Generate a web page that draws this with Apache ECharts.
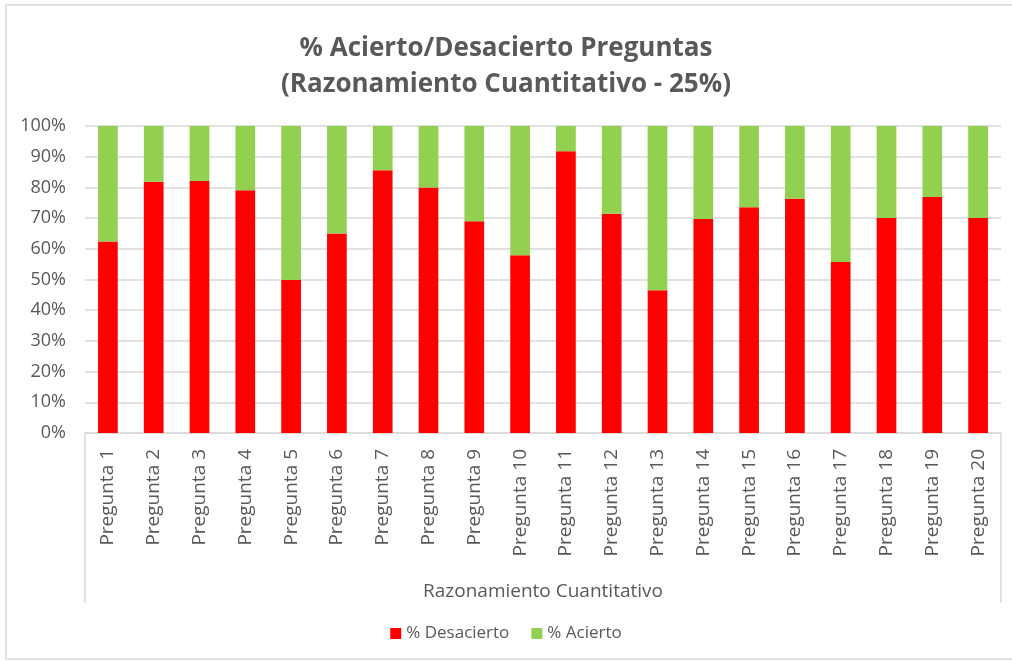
<!DOCTYPE html>
<html>
<head>
<meta charset="utf-8">
<script src="https://cdn.jsdelivr.net/npm/echarts@6/dist/echarts.min.js"></script>
<style>
  html, body { margin: 0; padding: 0; background: #fff; }
  #chart { width: 1012px; height: 661px; }
</style>
</head>
<body>
<div id="chart"></div>
<script>
// categorías y valores
const preguntas = ['Pregunta 1', 'Pregunta 2', 'Pregunta 3', 'Pregunta 4', 'Pregunta 5',
  'Pregunta 6', 'Pregunta 7', 'Pregunta 8', 'Pregunta 9', 'Pregunta 10',
  'Pregunta 11', 'Pregunta 12', 'Pregunta 13', 'Pregunta 14', 'Pregunta 15',
  'Pregunta 16', 'Pregunta 17', 'Pregunta 18', 'Pregunta 19', 'Pregunta 20']
const grupo = ['Razonamiento Cuantitativo']
const desacierto = [62.4, 81.8, 82.1, 79.1, 49.8, 65.0, 85.6, 80.0, 69.0, 57.9,
  91.8, 71.4, 46.5, 69.7, 73.5, 76.3, 55.7, 70.0, 76.9, 70.0]
const acierto = desacierto.map(v => +(100 - v).toFixed(1))

const textColor = '#595959'
const font = 'Open Sans'

const chart = echarts.init(document.getElementById('chart'))

const option = {
  backgroundColor: '#fff',
  textStyle: { fontFamily: font },
  title: {
    text: '% Acierto/Desacierto Preguntas\n(Razonamiento Cuantitativo - 25%)',
    left: 'center',
    top: 26,
    textStyle: {
      fontFamily: font,
      fontSize: 26,
      fontWeight: 'bold',
      color: textColor,
      lineHeight: 36
    }
  },
  legend: {
    bottom: 14,
    left: 'center',
    itemWidth: 11,
    itemHeight: 11,
    itemGap: 22,
    icon: 'rect',
    textStyle: { fontFamily: font, fontSize: 17, color: textColor },
    data: ['% Desacierto', '% Acierto']
  },
  grid: {
    left: 85,
    right: 11,
    top: 126,
    bottom: 228
  },
  xAxis: [
    {
      type: 'category',
      data: preguntas,
      axisLine: { lineStyle: { color: '#d9d9d9', width: 1.5 } },
      axisTick: { show: false },
      axisLabel: {
        rotate: 90,
        interval: 0,
        margin: 16,
        color: textColor,
        fontFamily: font,
        fontSize: 19
      }
    },
    {
      type: 'category',
      data: grupo,
      position: 'bottom',
      offset: 170,
      axisLine: { show: false },
      axisTick: { show: true, inside: true, length: 170, lineStyle: { color: '#d9d9d9', width: 1.5 } },
      axisLabel: {
        margin: -21,
        color: textColor,
        fontFamily: font,
        fontSize: 19
      }
    }
  ],
  yAxis: {
    type: 'value',
    min: 0,
    max: 100,
    interval: 10,
    axisLine: { show: false },
    axisTick: { show: false },
    splitLine: { lineStyle: { color: '#d9d9d9', width: 1.5 } },
    axisLabel: {
      formatter: '{value}%',
      margin: 19,
      color: textColor,
      fontFamily: font,
      fontSize: 18
    }
  },
  series: [
    {
      name: '% Desacierto',
      type: 'bar',
      stack: 'total',
      barWidth: '43%',
      itemStyle: { color: '#ff0000' },
      data: desacierto
    },
    {
      name: '% Acierto',
      type: 'bar',
      stack: 'total',
      barWidth: '43%',
      itemStyle: { color: '#92d050' },
      data: acierto
    }
  ],
  graphic: [
    {
      type: 'rect',
      shape: { x: 6, y: 5, width: 1020, height: 654 },
      style: { fill: 'none', stroke: '#d9d9d9', lineWidth: 1.5 },
      silent: true,
      z: -1
    }
  ]
}

chart.setOption(option)

window.addEventListener('resize', () => {
  chart.resize()
})
</script>
</body>
</html>
